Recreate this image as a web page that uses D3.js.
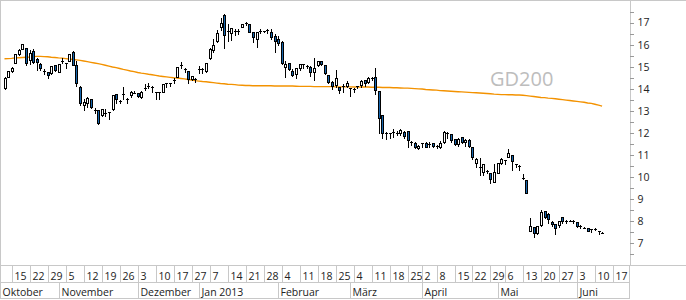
<!DOCTYPE html>
<html>
<head>
<meta charset="utf-8">
<style>
  body { margin: 0; background: #fff; }
  svg { display: block; font-family: "Open Sans", sans-serif; }
</style>
</head>
<body>
<div class="container"></div>
<script src="https://d3js.org/d3.v7.min.js"></script>
<script>
// trading days per month (Jun continues past the last candle so the "17" week fits)
var tradingDays = [
  ["2012-10", [11,12,15,16,17,18,19,22,23,24,25,26,29,30,31]],
  ["2012-11", [1,2,5,6,7,8,9,12,13,14,15,16,19,20,21,22,23,26,27,28,29,30]],
  ["2012-12", [3,4,5,6,7,10,11,12,13,14,17,18,19,20,21,27,28]],
  ["2013-01", [2,3,4,7,8,9,10,11,14,15,16,17,18,21,22,23,24,25,28,29,30,31]],
  ["2013-02", [1,4,5,6,7,8,11,12,13,14,15,18,19,20,21,22,25,26,27,28]],
  ["2013-03", [1,4,5,6,7,8,11,12,13,14,15,18,19,20,21,22,25,26,27,28]],
  ["2013-04", [2,3,4,5,8,9,10,11,12,15,16,17,18,19,22,23,24,25,26,29,30]],
  ["2013-05", [2,3,6,7,8,9,10,13,14,15,16,17,20,21,22,23,24,27,28,29,30,31]],
  ["2013-06", [3,4,5,6,7,10,11,12,13,14,17,18,19,20,21]]
];

var weekTicks = ["2012-10-15","2012-10-22","2012-10-29","2012-11-05","2012-11-12","2012-11-19",
  "2012-11-26","2012-12-03","2012-12-10","2012-12-17","2012-12-27","2013-01-07","2013-01-14",
  "2013-01-21","2013-01-28","2013-02-04","2013-02-11","2013-02-18","2013-02-25","2013-03-04",
  "2013-03-11","2013-03-18","2013-03-25","2013-04-02","2013-04-08","2013-04-15","2013-04-22",
  "2013-04-29","2013-05-06","2013-05-13","2013-05-20","2013-05-27","2013-06-03","2013-06-10",
  "2013-06-17"];

var monthTicks = ["2012-10-11","2012-11-01","2012-12-03","2013-01-02","2013-02-01",
  "2013-03-01","2013-04-02","2013-05-02","2013-06-03"];
var monthNames = ["Oktober","November","Dezember","Jan 2013","Februar","März","April","Mai","Juni"];

var open = [
  14.02,14.54,14.81,15.18,15.58,15.82,15.83,15.31,15.71,15.34,
  15.11,14.82,14.75,14.70,15.07,14.78,15.26,15.19,15.27,15.68,
  15.08,14.07,13.27,13.37,13.54,13.08,13.04,12.80,12.88,12.92,
  13.08,13.75,13.47,13.76,13.52,13.72,13.83,13.80,13.65,14.04,
  14.12,14.10,13.85,13.85,13.87,14.28,14.24,14.44,14.55,15.07,
  14.92,14.82,14.43,14.43,14.87,14.89,14.82,15.38,15.76,16.18,
  16.81,17.34,16.62,16.54,16.62,16.60,16.81,16.98,16.94,16.56,
  16.24,16.62,16.61,16.63,16.59,16.39,16.24,16.13,14.97,15.15,
  14.82,14.67,14.93,15.10,15.06,15.00,14.78,15.08,15.26,15.08,
  14.63,14.30,14.17,14.07,14.12,14.13,14.03,13.97,14.13,14.17,
  14.40,14.30,14.51,14.52,13.92,12.81,12.00,11.99,12.02,12.00,
  12.01,12.06,12.10,11.57,11.56,11.33,11.53,11.56,11.49,11.53,
  11.40,11.37,11.58,11.99,11.95,11.71,11.50,11.83,11.58,11.68,
  11.38,10.65,10.45,10.25,10.28,10.17,9.79,10.20,10.65,10.78,
  10.93,11.00,10.59,10.47,9.97,9.87,7.57,7.73,7.46,7.83,
  8.47,8.33,7.98,7.88,7.83,8.21,8.00,8.03,8.00,7.98,
  7.78,7.73,7.68,7.63,7.66,7.57,7.48
];
var high = [
  14.58,14.85,15.05,15.61,15.86,16.09,15.91,15.79,15.83,15.43,
  15.23,14.93,14.82,15.08,15.11,15.15,15.43,15.23,15.60,15.76,
  15.31,14.17,13.57,13.67,13.60,13.19,13.08,13.12,13.12,13.00,
  13.74,13.80,13.56,14.13,13.65,13.95,13.95,13.85,13.95,14.25,
  14.32,14.17,13.86,13.86,14.27,14.32,14.32,14.52,15.00,15.26,
  14.98,14.85,14.63,14.52,15.08,14.98,15.23,15.91,16.29,16.70,
  17.27,17.42,16.97,16.81,16.77,16.74,16.97,17.07,16.97,16.63,
  16.63,16.74,16.66,16.77,16.74,16.51,16.44,16.20,15.31,15.23,
  14.93,15.00,15.18,15.18,15.12,15.08,15.43,15.31,15.31,15.12,
  14.67,14.40,14.88,14.13,14.25,14.40,14.07,14.07,14.17,14.43,
  14.45,14.58,14.58,15.00,13.95,12.81,12.09,12.06,12.24,12.13,
  12.21,12.13,12.13,11.68,11.64,11.50,11.60,11.62,11.65,11.56,
  11.50,11.68,12.13,12.10,11.99,11.76,11.80,11.86,11.76,11.76,
  11.41,10.93,10.93,10.63,10.36,10.25,10.63,10.70,10.90,10.79,
  11.31,11.02,10.66,10.58,10.17,9.89,8.18,7.79,7.82,8.54,
  8.51,8.43,8.06,7.91,8.06,8.24,8.09,8.09,8.09,8.03,
  7.88,7.79,7.70,7.68,7.73,7.57,7.57
];
var low = [
  14.00,14.52,14.78,15.15,15.55,15.80,15.08,15.12,15.16,14.85,
  14.85,14.65,14.48,14.68,14.80,14.76,15.16,14.96,15.25,15.07,
  14.13,13.27,13.04,13.19,13.12,12.92,12.42,12.76,12.76,12.64,
  13.06,13.34,13.37,13.56,13.34,13.62,13.80,13.62,13.57,13.95,
  14.02,13.87,13.53,13.53,13.85,14.10,14.13,14.28,14.52,14.93,
  14.78,14.28,14.40,14.33,14.70,14.70,14.78,15.34,15.68,16.13,
  16.66,15.84,16.18,16.21,16.44,16.48,16.79,16.89,16.56,16.13,
  15.88,16.54,16.56,16.51,16.24,15.68,15.98,15.14,14.55,14.85,
  14.58,14.48,14.85,14.93,14.96,14.58,14.40,15.03,15.08,14.67,
  14.28,13.98,14.07,13.82,13.87,14.07,13.69,13.84,14.05,14.10,
  14.13,14.25,14.40,13.75,11.99,11.76,11.71,11.76,11.83,11.91,
  11.91,11.76,11.38,11.46,11.34,11.26,11.38,11.35,11.38,11.38,
  11.31,11.34,11.53,11.76,11.61,11.46,11.41,11.53,11.41,11.36,
  10.81,10.47,10.10,10.10,10.20,9.72,9.77,10.17,10.60,10.60,
  10.90,10.32,10.47,10.32,9.90,9.27,7.56,7.30,7.44,7.79,
  8.14,7.91,7.79,7.43,7.73,7.93,7.91,8.01,7.91,7.73,
  7.68,7.72,7.54,7.50,7.61,7.41,7.47
];
var close = [
  14.48,14.79,14.93,15.56,15.76,16.04,15.18,15.61,15.23,15.21,
  14.96,14.80,14.61,15.03,14.85,15.12,15.28,15.18,15.56,15.09,
  14.25,13.34,13.42,13.60,13.19,13.06,12.44,13.07,12.90,12.94,
  13.72,13.53,13.45,13.78,13.55,13.87,13.82,13.67,13.87,14.06,
  14.14,14.08,13.84,13.85,14.22,14.27,14.26,14.42,14.98,15.09,
  14.90,14.45,14.58,14.44,14.89,14.88,15.18,15.79,15.98,16.51,
  16.99,16.44,16.64,16.77,16.64,16.62,16.92,17.00,16.59,16.33,
  16.59,16.61,16.62,16.65,16.33,16.18,16.09,15.18,15.12,14.88,
  14.63,14.93,15.12,15.12,15.04,14.78,14.93,15.26,15.11,14.73,
  14.32,14.13,14.48,13.95,14.14,14.28,14.02,13.99,14.14,14.37,
  14.25,14.50,14.49,13.95,12.66,11.99,12.02,11.98,12.04,12.02,
  12.13,11.86,11.68,11.59,11.38,11.42,11.55,11.38,11.51,11.41,
  11.42,11.56,12.06,12.01,11.68,11.50,11.73,11.58,11.68,11.41,
  10.93,10.81,10.47,10.60,10.30,9.90,10.25,10.65,10.81,10.77,
  11.08,10.72,10.61,10.49,9.98,9.29,7.79,7.46,7.79,8.44,
  8.19,8.09,7.86,7.68,8.01,8.01,8.02,8.02,8.02,7.79,
  7.80,7.72,7.56,7.65,7.64,7.56,7.47
];
var gd200 = [
  15.36,15.37,15.38,15.40,15.41,15.42,15.43,15.44,15.46,15.47,
  15.47,15.46,15.45,15.43,15.42,15.40,15.39,15.37,15.35,15.33,
  15.31,15.29,15.26,15.23,15.20,15.17,15.14,15.11,15.07,15.03,
  14.99,14.96,14.92,14.88,14.85,14.81,14.78,14.74,14.71,14.69,
  14.66,14.64,14.61,14.58,14.56,14.54,14.52,14.50,14.49,14.47,
  14.45,14.42,14.40,14.37,14.35,14.33,14.32,14.30,14.28,14.26,
  14.24,14.23,14.21,14.20,14.19,14.17,14.16,14.15,14.15,14.14,
  14.14,14.14,14.14,14.14,14.14,14.13,14.13,14.13,14.13,14.13,
  14.13,14.12,14.11,14.11,14.11,14.11,14.10,14.10,14.10,14.10,
  14.10,14.10,14.09,14.09,14.09,14.09,14.09,14.08,14.08,14.08,
  14.08,14.08,14.07,14.07,14.07,14.06,14.06,14.06,14.05,14.05,
  14.04,14.03,14.03,14.02,14.01,14.00,13.99,13.97,13.96,13.95,
  13.94,13.92,13.91,13.90,13.89,13.88,13.87,13.86,13.85,13.84,
  13.83,13.82,13.81,13.80,13.79,13.78,13.76,13.75,13.74,13.74,
  13.73,13.73,13.72,13.72,13.71,13.69,13.67,13.65,13.63,13.61,
  13.60,13.58,13.57,13.55,13.53,13.51,13.49,13.47,13.45,13.43,
  13.41,13.39,13.36,13.34,13.30,13.26,13.22
];

var W = 686, H = 300,
    plotR = 629.5, plotB = 265.5, weekB = 282.5, monthB = 298.5,
    grid = "#c8c8c8", ink = "#222";

var dates = [];
tradingDays.forEach(function(m) {
  m[1].forEach(function(d) { dates.push(m[0] + "-" + (d < 10 ? "0" + d : d)); });
});
var dateIndex = new Map(dates.map(function(d, i) { return [d, i]; }));

var candles = open.map(function(o, i) {
  return { i: i, o: o, h: high[i], l: low[i], c: close[i] };
});

var x = d3.scaleLinear().domain([0, dates.length - 1]).range([4.5, 627.3]);
var y = d3.scaleLinear().domain([6, 18]).range([plotB, 0.5]);
var px = function(i) { return Math.round(x(i)) + 0.5; };
var py = function(v) { return Math.round(y(v)) + 0.5; };

var svg = d3.select('.container').append('svg')
    .attr('width', W).attr('height', H);

// frame
var frame = svg.append('g').attr('stroke', grid).attr('shape-rendering', 'crispEdges');
frame.append('line').attr('x1', 0).attr('x2', W).attr('y1', 0.5).attr('y2', 0.5);
frame.append('line').attr('x1', 0.5).attr('x2', 0.5).attr('y1', 0).attr('y2', monthB);
frame.append('line').attr('x1', 0).attr('x2', W).attr('y1', plotB).attr('y2', plotB);
frame.append('line').attr('x1', 0).attr('x2', plotR).attr('y1', weekB).attr('y2', weekB);
frame.append('line').attr('x1', 0).attr('x2', plotR).attr('y1', monthB).attr('y2', monthB);
frame.append('line').attr('x1', plotR).attr('x2', plotR).attr('y1', plotB).attr('y2', monthB);

// watermark
svg.append('text')
    .attr('x', 490).attr('y', 86)
    .attr('font-size', 20).attr('fill', '#bdbdbd')
    .text('GD200');

// moving average
svg.append('path')
    .datum(gd200)
    .attr('fill', 'none')
    .attr('stroke', '#f39200')
    .attr('stroke-width', 1.4)
    .attr('d', d3.line().x(function(d, i) { return x(i); }).y(function(d) { return y(d); }));

// candles
var cg = svg.append('g').attr('shape-rendering', 'crispEdges');
var c = cg.selectAll('g').data(candles).join('g');

c.append('line')
    .attr('x1', function(d) { return px(d.i); }).attr('x2', function(d) { return px(d.i); })
    .attr('y1', function(d) { return py(d.h); }).attr('y2', function(d) { return py(d.l); })
    .attr('stroke', '#000');

c.each(function(d) {
  var g = d3.select(this),
      top = py(Math.max(d.o, d.c)),
      bot = py(Math.min(d.o, d.c));
  if (bot - top < 1.5) {
    g.append('line')
        .attr('x1', px(d.i) - 1.5).attr('x2', px(d.i) + 1.5)
        .attr('y1', py(d.c)).attr('y2', py(d.c))
        .attr('stroke', '#000');
  } else {
    g.append('rect')
        .attr('x', px(d.i) - 1).attr('width', 2)
        .attr('y', top).attr('height', bot - top)
        .attr('fill', d.c > d.o ? '#fff' : '#1565ad')
        .attr('stroke', '#000');
  }
});

// price axis
var yAxis = d3.axisRight(y)
    .tickValues(d3.range(6.5, 18, 0.5))
    .tickSize(4).tickSizeOuter(0).tickPadding(4)
    .tickFormat(function(d) { return d % 1 === 0 ? d : ''; });

var ga = svg.append('g')
    .attr('transform', 'translate(' + plotR + ',0)')
    .attr('shape-rendering', 'crispEdges')
    .call(yAxis);
ga.select('.domain').attr('stroke', grid);
ga.selectAll('.tick line').attr('stroke', '#999');
ga.selectAll('.tick text').attr('fill', ink).attr('font-size', 10.5)
    .attr('font-family', '"Open Sans", sans-serif');

// week row
var weekAxis = d3.axisBottom(x)
    .tickValues(weekTicks.map(function(d) { return dateIndex.get(d); }))
    .tickSize(weekB - plotB).tickSizeOuter(0)
    .tickFormat(function(i) { return +dates[i].slice(8); });

var gw = svg.append('g')
    .attr('transform', 'translate(0,' + plotB + ')')
    .call(weekAxis);
gw.select('.domain').remove();
gw.selectAll('.tick').attr('transform', function(i) { return 'translate(' + px(i) + ',0)'; });
gw.selectAll('.tick line').attr('stroke', grid).attr('shape-rendering', 'crispEdges');
gw.selectAll('.tick text')
    .attr('x', 2).attr('y', 14).attr('dy', null)
    .attr('text-anchor', 'start').attr('fill', ink).attr('font-size', 10.5)
    .attr('font-family', '"Open Sans", sans-serif');

// month row
var monthAxis = d3.axisBottom(x)
    .tickValues(monthTicks.map(function(d) { return dateIndex.get(d); }))
    .tickSize(monthB - weekB).tickSizeOuter(0)
    .tickFormat(function(i, k) { return monthNames[k]; });

var gm = svg.append('g')
    .attr('transform', 'translate(0,' + weekB + ')')
    .call(monthAxis);
gm.select('.domain').remove();
gm.selectAll('.tick').attr('transform', function(i, k) {
  return 'translate(' + (k === 0 ? 0.5 : px(i)) + ',0)';
});
gm.selectAll('.tick line').attr('stroke', grid).attr('shape-rendering', 'crispEdges');
gm.selectAll('.tick text')
    .attr('x', 2).attr('y', 13).attr('dy', null)
    .attr('text-anchor', 'start').attr('fill', ink).attr('font-size', 10.5)
    .attr('font-family', '"Open Sans", sans-serif');
</script>
</body>
</html>
